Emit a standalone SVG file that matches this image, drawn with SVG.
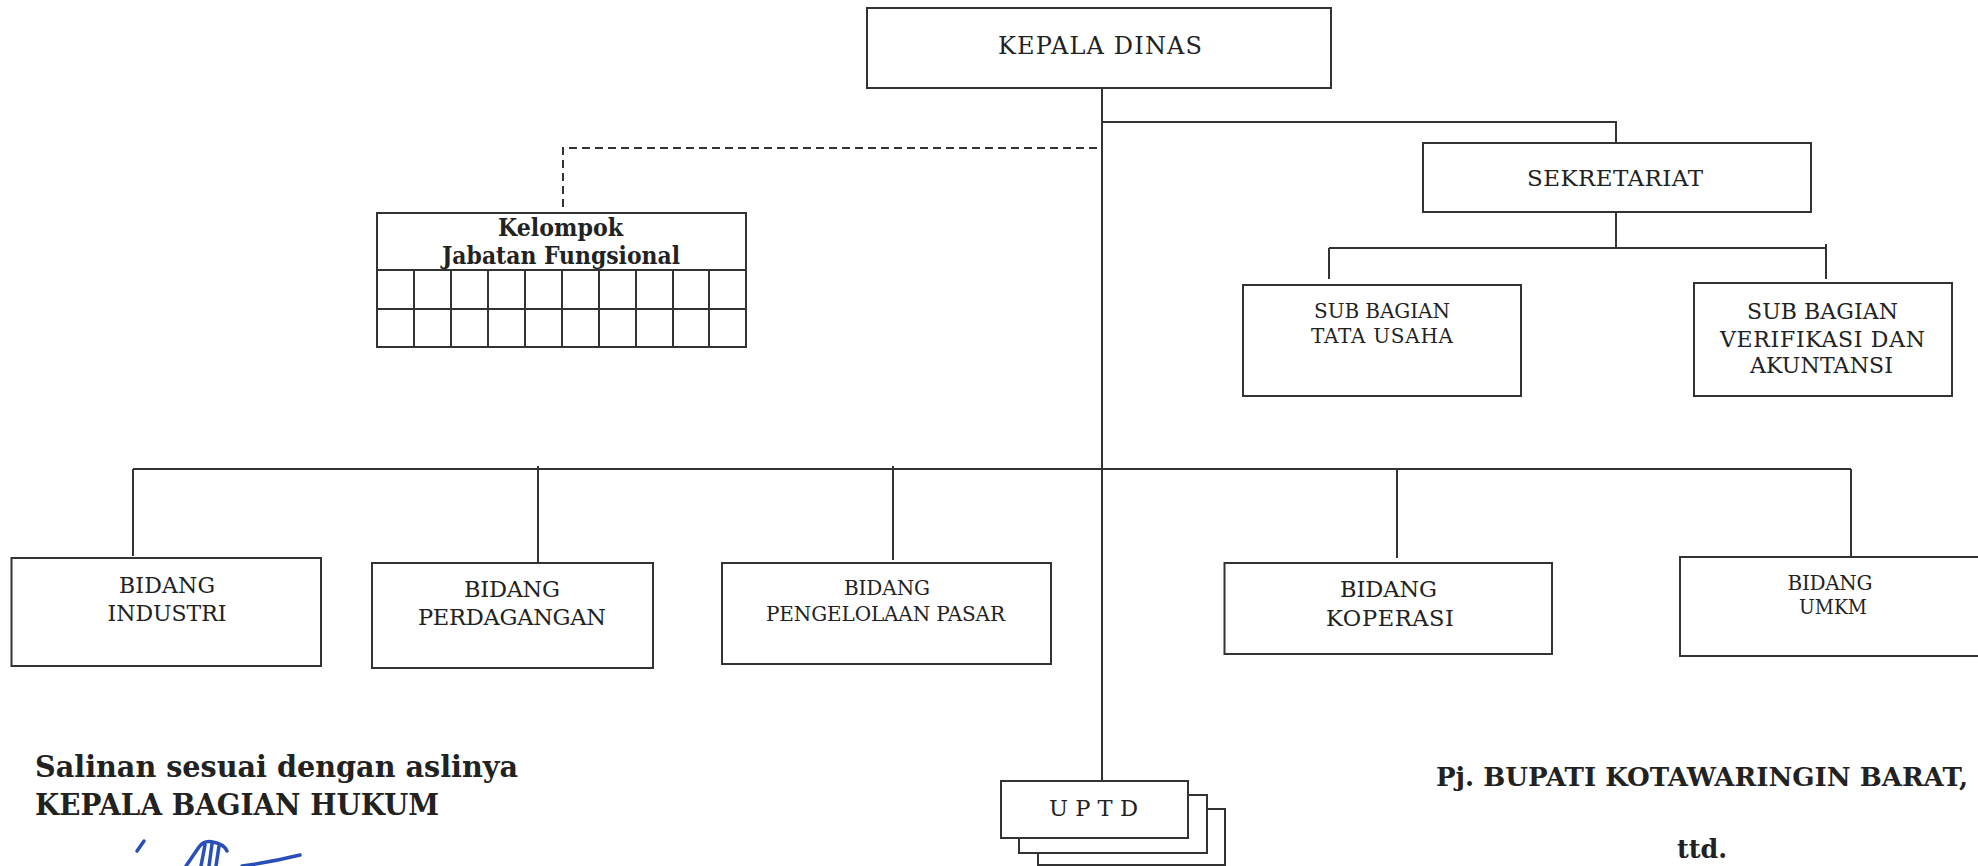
<svg xmlns="http://www.w3.org/2000/svg" width="1978" height="866" viewBox="0 0 1978 866">
<style>
.box{fill:#fff;stroke:#333;stroke-width:2}
.ln{fill:none;stroke:#333;stroke-width:2}
.dash{fill:none;stroke:#333;stroke-width:2;stroke-dasharray:8 5}
.t{font-family:"DejaVu Serif","Liberation Serif",serif;fill:#222;text-anchor:middle}
.b{font-family:"DejaVu Serif","Liberation Serif",serif;font-weight:bold;fill:#222}
.sig{fill:none;stroke:#2a4fb8;stroke-width:3.5;stroke-linecap:round;stroke-linejoin:round}
</style>
<rect width="1978" height="866" fill="#fff"/>
<g id="connectors">
<path class="ln" d="M1102,88 V781"/>
<path class="ln" d="M1102,122 H1616 V143"/>
<path class="dash" d="M1097,148 H563 V212"/>
<path class="ln" d="M1616,212 V248"/>
<path class="ln" d="M1329,248 H1826"/>
<path class="ln" d="M1329,248 V279"/>
<path class="ln" d="M1826,244 V279"/>
<path class="ln" d="M133,469 H1851"/>
<path class="ln" d="M133,469 V556"/>
<path class="ln" d="M538,466 V566"/>
<path class="ln" d="M893,466 V560"/>
<path class="ln" d="M1397,469 V558"/>
<path class="ln" d="M1851,469 V560"/>
</g>
<g id="kepala-dinas">
<rect class="box" x="867" y="8" width="464" height="80"/>
<text class="t" x="1100" y="54" font-size="24" textLength="204" lengthAdjust="spacing">KEPALA DINAS</text>
</g>
<g id="sekretariat">
<rect class="box" x="1423" y="143" width="388" height="69"/>
<text class="t" x="1615" y="186" font-size="23" textLength="176" lengthAdjust="spacing">SEKRETARIAT</text>
</g>
<g id="sub-bagian-tata-usaha">
<rect class="box" x="1243" y="285" width="278" height="111"/>
<text class="t" x="1382" y="318" font-size="20" textLength="136" lengthAdjust="spacing">SUB BAGIAN</text>
<text class="t" x="1382" y="343" font-size="20" textLength="142" lengthAdjust="spacing">TATA USAHA</text>
</g>
<g id="sub-bagian-verifikasi">
<rect class="box" x="1694" y="283" width="258" height="113"/>
<text class="t" x="1822.5" y="319" font-size="22" textLength="151" lengthAdjust="spacing">SUB BAGIAN</text>
<text class="t" x="1822.5" y="347" font-size="22" textLength="205" lengthAdjust="spacing">VERIFIKASI DAN</text>
<text class="t" x="1821.5" y="373" font-size="22" textLength="143" lengthAdjust="spacing">AKUNTANSI</text>
</g>
<g id="kelompok-jabatan-fungsional">
<rect class="box" x="377" y="213" width="369" height="134"/>
<path class="ln" d="M377,270 H746 M377,309 H746 M414,270 V347 M451,270 V347 M488,270 V347 M525,270 V347 M562,270 V347 M599,270 V347 M636,270 V347 M673,270 V347 M709,270 V347"/>
<text class="b" x="560.5" y="236" font-size="24" text-anchor="middle" textLength="125" lengthAdjust="spacingAndGlyphs">Kelompok</text>
<text class="b" x="561" y="264" font-size="24" text-anchor="middle" textLength="238" lengthAdjust="spacingAndGlyphs">Jabatan Fungsional</text>
</g>
<g id="bidang-industri">
<rect class="box" x="11.5" y="558" width="309.5" height="108"/>
<text class="t" x="167" y="593" font-size="22" textLength="96" lengthAdjust="spacing">BIDANG</text>
<text class="t" x="167" y="621" font-size="22" textLength="119" lengthAdjust="spacing">INDUSTRI</text>
</g>
<g id="bidang-perdagangan">
<rect class="box" x="372" y="563" width="281" height="105"/>
<text class="t" x="512" y="597" font-size="22.5" textLength="96" lengthAdjust="spacing">BIDANG</text>
<text class="t" x="512" y="625" font-size="22.5" textLength="188" lengthAdjust="spacing">PERDAGANGAN</text>
</g>
<g id="bidang-pengelolaan-pasar">
<rect class="box" x="722" y="563" width="329" height="101"/>
<text class="t" x="887" y="595" font-size="20" textLength="86" lengthAdjust="spacing">BIDANG</text>
<text class="t" x="885.5" y="621" font-size="20" textLength="239" lengthAdjust="spacing">PENGELOLAAN PASAR</text>
</g>
<g id="bidang-koperasi">
<rect class="box" x="1224.5" y="563" width="327.5" height="91"/>
<text class="t" x="1388.5" y="597" font-size="22.5" textLength="97" lengthAdjust="spacing">BIDANG</text>
<text class="t" x="1390" y="626" font-size="22.5" textLength="128" lengthAdjust="spacing">KOPERASI</text>
</g>
<g id="bidang-umkm">
<rect class="box" x="1680" y="557" width="305" height="99"/>
<text class="t" x="1830" y="590" font-size="20" textLength="85" lengthAdjust="spacing">BIDANG</text>
<text class="t" x="1833" y="614" font-size="19.5" textLength="68" lengthAdjust="spacingAndGlyphs">UMKM</text>
</g>
<g id="uptd">
<rect class="box" x="1038" y="809" width="187" height="56"/>
<rect class="box" x="1019" y="795" width="188" height="58"/>
<rect class="box" x="1001" y="781" width="187" height="57"/>
<text class="t" x="1093.5" y="816" font-size="23" textLength="89" lengthAdjust="spacingAndGlyphs">U P T D</text>
</g>
<g id="pengesahan">
<text class="b" x="35" y="777" font-size="30" textLength="483" lengthAdjust="spacingAndGlyphs">Salinan sesuai dengan aslinya</text>
<text class="b" x="35" y="815" font-size="29" textLength="404" lengthAdjust="spacingAndGlyphs">KEPALA BAGIAN HUKUM</text>
<path class="sig" d="M137,851 L144,841"/>
<path class="sig" d="M186,866 L199,847 Q204,840 213,842 Q224,844 227,851 M205,845 L201,866 M212,844 L209,866 M219,846 L216,866"/>
<path class="sig" d="M242,866 Q272,862 300,855"/>
</g>
<g id="bupati">
<text class="b" x="1436" y="786" font-size="26" textLength="532" lengthAdjust="spacingAndGlyphs">Pj. BUPATI KOTAWARINGIN BARAT,</text>
<text class="b" x="1677" y="858" font-size="26" textLength="50" lengthAdjust="spacingAndGlyphs">ttd.</text>
</g>
</svg>
